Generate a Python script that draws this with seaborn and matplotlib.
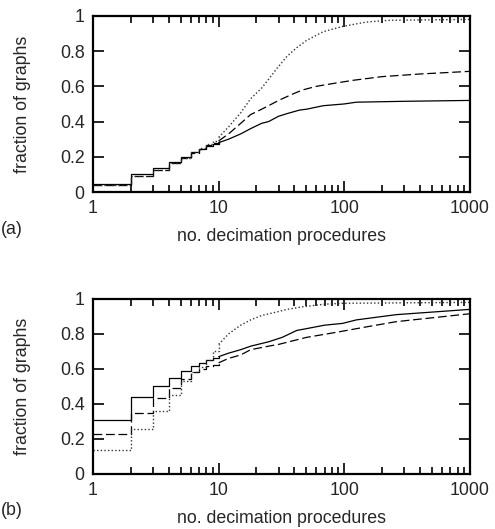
"""
Cumulative fraction of graphs vs number of decimation procedures, two panels.
"""

import numpy as np
import pandas as pd
import matplotlib
matplotlib.use('Agg')
import matplotlib.pyplot as plt
import seaborn as sns
from matplotlib.ticker import LogLocator, NullFormatter, FixedLocator

# panel (a): positions and cumulative fractions (staircase below 10, fine above)
a_solid_x = [1, 2, 3, 4, 5, 6, 7, 8, 9, 10, 12, 15, 18, 22, 25, 30, 35, 44, 50, 68, 100, 125, 300, 1000]
a_solid_y = [0.045, 0.10, 0.135, 0.17, 0.20, 0.225, 0.245, 0.26, 0.27, 0.28, 0.30, 0.33, 0.36,
             0.39, 0.40, 0.43, 0.445, 0.465, 0.47, 0.49, 0.50, 0.51, 0.515, 0.52]
a_dash_x = [1, 2, 3, 4, 5, 6, 7, 8, 9, 10, 12, 15, 18, 22, 25, 30, 40, 47, 60, 88, 120, 200, 400, 1000]
a_dash_y = [0.04, 0.09, 0.125, 0.165, 0.195, 0.22, 0.245, 0.265, 0.28, 0.29, 0.33, 0.39, 0.44,
            0.47, 0.49, 0.52, 0.56, 0.58, 0.60, 0.62, 0.635, 0.655, 0.67, 0.685]
a_dot_x = [1, 2, 3, 4, 5, 6, 7, 8, 9, 10, 12, 15, 18, 22, 25, 29, 35, 42, 50, 68, 97, 150, 230, 1000]
a_dot_y = [0.04, 0.09, 0.125, 0.165, 0.195, 0.225, 0.25, 0.275, 0.29, 0.31, 0.37, 0.45, 0.53,
           0.59, 0.64, 0.70, 0.77, 0.82, 0.86, 0.91, 0.94, 0.965, 0.975, 0.98]

# panel (b)
b_solid_x = [1, 2, 3, 4, 5, 6, 7, 8, 9, 10, 12, 15, 18, 25, 32, 42, 50, 70, 97, 125, 260, 1000]
b_solid_y = [0.31, 0.44, 0.505, 0.55, 0.59, 0.615, 0.635, 0.65, 0.66, 0.67, 0.69, 0.71, 0.73,
             0.755, 0.78, 0.82, 0.83, 0.85, 0.86, 0.88, 0.91, 0.94]
b_dash_x = [1, 2, 3, 4, 5, 6, 7, 8, 9, 10, 12, 15, 18, 25, 30, 50, 88, 150, 260, 1000]
b_dash_y = [0.23, 0.35, 0.435, 0.49, 0.54, 0.58, 0.60, 0.615, 0.625, 0.635, 0.66, 0.68, 0.71,
            0.73, 0.74, 0.78, 0.81, 0.84, 0.87, 0.915]
b_dot_x = [1, 2, 3, 4, 5, 6, 7, 8, 9, 10, 12, 15, 18, 22, 29, 35, 47, 70, 100, 1000]
b_dot_y = [0.135, 0.255, 0.36, 0.45, 0.53, 0.58, 0.61, 0.65, 0.70, 0.74, 0.80, 0.85, 0.88,
           0.905, 0.925, 0.94, 0.955, 0.97, 0.975, 0.98]

x_ticks = [1, 10, 100, 1000]
x_tick_labels = ['1', '10', '100', '1000']
y_ticks = [0, 0.2, 0.4, 0.6, 0.8, 1]
y_tick_labels = ['0', '0.2', '0.4', '0.6', '0.8', '1']

FS = 12.8
sns.set_style('ticks')
plt.rcParams['font.family'] = ['Liberation Sans', 'DejaVu Sans']
plt.rcParams['font.size'] = FS


def draw_panel(ax, series, tag):
    for xs, ys, ls, color, lw in series:
        df = pd.DataFrame({'x': xs, 'y': ys})
        # integer staircase up to 10, finer curve beyond
        sns.lineplot(data=df[df.x <= 10], x='x', y='y', ax=ax, color=color, lw=lw,
                     linestyle=ls, drawstyle='steps-post', estimator=None)
        sns.lineplot(data=df[df.x >= 10], x='x', y='y', ax=ax, color=color, lw=lw,
                     linestyle=ls, estimator=None)
    ax.set_xscale('log')
    ax.set_xlim(1, 1000)
    ax.set_ylim(0, 1)
    ax.xaxis.set_major_locator(FixedLocator(x_ticks))
    ax.set_xticklabels(x_tick_labels)
    ax.xaxis.set_minor_locator(LogLocator(base=10, subs=np.arange(2, 10)))
    ax.xaxis.set_minor_formatter(NullFormatter())
    ax.set_yticks(y_ticks)
    ax.set_yticklabels(y_tick_labels)
    ax.tick_params(which='both', direction='in', top=True, right=True,
                   color='black', width=1.2, labelsize=FS, pad=6)
    ax.tick_params(which='major', length=8)
    ax.tick_params(which='minor', length=5)
    for sp in ax.spines.values():
        sp.set_linewidth(1.6)
        sp.set_color('black')
    ax.set_xlabel('no. decimation procedures', fontsize=FS, labelpad=8)
    ax.set_ylabel('fraction of graphs', fontsize=FS, labelpad=21)
    ax.text(-0.245, -0.21, tag, transform=ax.transAxes, fontsize=FS,
            ha='left', va='center')


fig = plt.figure(figsize=(4.95, 5.29), dpi=100)
ax_a = fig.add_axes([0.188, 0.637, 0.761, 0.333])
ax_b = fig.add_axes([0.188, 0.104, 0.761, 0.331])

dash = (0, (7, 3))
dot = (0, (1, 1.6))
draw_panel(ax_a, [
    (a_solid_x, a_solid_y, '-', 'black', 0.9),
    (a_dash_x, a_dash_y, dash, 'black', 0.9),
    (a_dot_x, a_dot_y, dot, '#333333', 1.0),
], '(a)')
draw_panel(ax_b, [
    (b_solid_x, b_solid_y, '-', 'black', 0.9),
    (b_dash_x, b_dash_y, dash, 'black', 0.9),
    (b_dot_x, b_dot_y, dot, '#333333', 1.0),
], '(b)')

fig.savefig('out.png', dpi=100)
